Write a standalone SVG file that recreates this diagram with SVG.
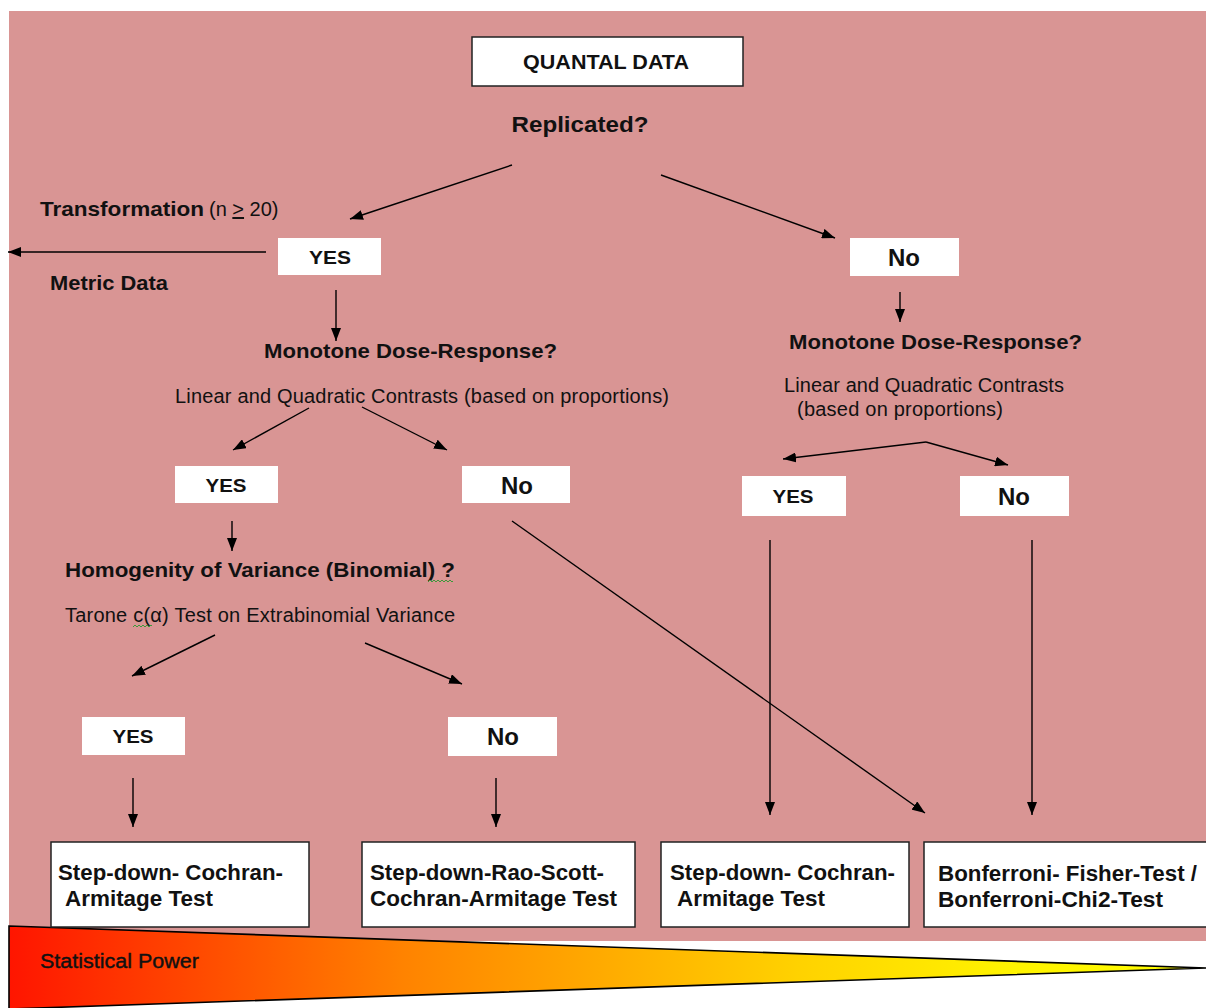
<svg xmlns="http://www.w3.org/2000/svg" width="1206" height="1008" viewBox="0 0 1206 1008">
  <style>
    .b { font-family: "Liberation Sans", Arial, sans-serif; font-weight: bold; fill: #111; }
    .r { font-family: "Liberation Sans", Arial, sans-serif; font-weight: normal; fill: #111; }
    .box { fill: #fff; stroke: #222; stroke-width: 1.5; }
    .tag { fill: #fff; stroke: none; }
    .c { stroke: #000; stroke-width: 1.4; fill: none; marker-end: url(#ah); }
    .sq { stroke: #3a9a3a; stroke-width: 1; fill: none; }
  </style>
  <defs>
    <marker id="ah" viewBox="0 0 13 10" refX="13" refY="5" markerWidth="13" markerHeight="10" markerUnits="userSpaceOnUse" orient="auto">
      <path d="M0,0 L13,5 L0,10 z" fill="#000"/>
    </marker>
    <linearGradient id="power" gradientUnits="userSpaceOnUse" x1="9" y1="0" x2="1206" y2="0">
      <stop offset="0" stop-color="#ff1500"/>
      <stop offset="0.33" stop-color="#ff8300"/>
      <stop offset="0.66" stop-color="#ffd200"/>
      <stop offset="0.83" stop-color="#fff200"/>
      <stop offset="1" stop-color="#ffff00"/>
    </linearGradient>
  </defs>

  <!-- page -->
  <rect x="0" y="0" width="1206" height="1008" fill="#fff"/>
  <rect x="9" y="11" width="1197" height="930" fill="#d99594"/>

  <!-- power wedge -->
  <g id="power-wedge">
    <polygon points="9,926 1206,968 9,1009" fill="url(#power)" stroke="#000" stroke-width="1.6" stroke-linejoin="miter"/>
    <text class="r" x="40" y="968" font-size="20" stroke="#111" stroke-width="0.4" textLength="159" lengthAdjust="spacingAndGlyphs">Statistical  Power</text>
  </g>

  <!-- connectors -->
  <g id="connectors">
    <line class="c" x1="512" y1="165" x2="350" y2="219"/>
    <line class="c" x1="661" y1="175" x2="835" y2="238"/>
    <line class="c" x1="266" y1="252" x2="8" y2="252"/>
    <line class="c" x1="336" y1="290" x2="336" y2="341"/>
    <line class="c" x1="900" y1="292" x2="900" y2="322"/>
    <line class="c" x1="309" y1="408" x2="233" y2="450"/>
    <line class="c" x1="362" y1="407" x2="447" y2="450"/>
    <line class="c" x1="232" y1="521" x2="232" y2="551"/>
    <line class="c" x1="215" y1="635" x2="132" y2="676"/>
    <line class="c" x1="365" y1="643" x2="462" y2="684"/>
    <line class="c" x1="133" y1="778" x2="133" y2="827"/>
    <line class="c" x1="496" y1="778" x2="496" y2="827"/>
    <line class="c" x1="926" y1="442" x2="783" y2="459"/>
    <line class="c" x1="926" y1="442" x2="1008" y2="465"/>
    <line class="c" x1="770" y1="540" x2="770" y2="815"/>
    <line class="c" x1="1032" y1="540" x2="1032" y2="815"/>
    <line class="c" x1="512" y1="521" x2="925" y2="813"/>
  </g>

  <!-- top -->
  <g id="quantal-data">
    <rect class="box" x="472" y="37" width="271" height="49"/>
    <text class="b" x="606" y="69" font-size="20" text-anchor="middle" textLength="166" lengthAdjust="spacingAndGlyphs">QUANTAL DATA</text>
  </g>
  <g id="replicated">
    <text class="b" x="580" y="132" font-size="22" text-anchor="middle" textLength="137" lengthAdjust="spacingAndGlyphs">Replicated?</text>
  </g>

  <!-- replicated: yes branch -->
  <g id="transformation">
    <text x="40" y="216"><tspan class="b" font-size="21" textLength="164" lengthAdjust="spacingAndGlyphs">Transformation</tspan><tspan class="r" x="209" font-size="20">(n <tspan text-decoration="underline">&gt;</tspan> 20)</tspan></text>
  </g>
  <g id="metric-data">
    <text class="b" x="50" y="290" font-size="21" textLength="118" lengthAdjust="spacingAndGlyphs">Metric Data</text>
  </g>
  <g id="yes-replicated">
    <rect class="tag" x="278" y="238" width="103" height="37"/>
    <text class="b" x="330" y="264" font-size="19" text-anchor="middle" textLength="42" lengthAdjust="spacingAndGlyphs">YES</text>
  </g>
  <g id="monotone-left">
    <text class="b" x="264" y="358" font-size="21" textLength="293" lengthAdjust="spacingAndGlyphs">Monotone Dose-Response?</text>
    <text class="r" x="175" y="403" font-size="20" textLength="494" lengthAdjust="spacing">Linear  and Quadratic  Contrasts (based on proportions)</text>
  </g>
  <g id="yes-monotone-left">
    <rect class="tag" x="175" y="466" width="103" height="37"/>
    <text class="b" x="226" y="492" font-size="19" text-anchor="middle" textLength="41" lengthAdjust="spacingAndGlyphs">YES</text>
  </g>
  <g id="no-monotone-left">
    <rect class="tag" x="462" y="466" width="108" height="37"/>
    <text class="b" x="517" y="494" font-size="24" text-anchor="middle">No</text>
  </g>
  <g id="homogeneity">
    <text class="b" x="65" y="577" font-size="21" textLength="390" lengthAdjust="spacingAndGlyphs">Homogenity of Variance (Binomial) ?</text>
    <path class="sq" d="M428,582 l2,-2 l2,2 l2,-2 l2,2 l2,-2 l2,2 l2,-2 l2,2 l2,-2 l2,2 l2,-2 l2,2 l1,-1"/>
    <text class="r" x="65" y="622" font-size="20" textLength="390" lengthAdjust="spacing">Tarone  c(α) Test  on Extrabinomial Variance</text>
    <path class="sq" d="M133,627 l2,-2 l2,2 l2,-2 l2,2 l2,-2 l2,2 l2,-2 l2,2 l2,-2 l1,1"/>
  </g>
  <g id="yes-homogeneity">
    <rect class="tag" x="82" y="717" width="103" height="38"/>
    <text class="b" x="133" y="743" font-size="19" text-anchor="middle" textLength="41" lengthAdjust="spacingAndGlyphs">YES</text>
  </g>
  <g id="no-homogeneity">
    <rect class="tag" x="448" y="717" width="109" height="39"/>
    <text class="b" x="503" y="745" font-size="24" text-anchor="middle">No</text>
  </g>

  <!-- replicated: no branch -->
  <g id="no-replicated">
    <rect class="tag" x="850" y="238" width="109" height="38"/>
    <text class="b" x="904" y="266" font-size="24" text-anchor="middle">No</text>
  </g>
  <g id="monotone-right">
    <text class="b" x="789" y="349" font-size="21" textLength="293" lengthAdjust="spacingAndGlyphs">Monotone Dose-Response?</text>
    <text class="r" x="784" y="392" font-size="20" textLength="280" lengthAdjust="spacing">Linear  and Quadratic Contrasts</text>
    <text class="r" x="797" y="416" font-size="20" textLength="206" lengthAdjust="spacing">(based on proportions)</text>
  </g>
  <g id="yes-monotone-right">
    <rect class="tag" x="742" y="476" width="104" height="40"/>
    <text class="b" x="793" y="503" font-size="19" text-anchor="middle" textLength="41" lengthAdjust="spacingAndGlyphs">YES</text>
  </g>
  <g id="no-monotone-right">
    <rect class="tag" x="960" y="476" width="109" height="40"/>
    <text class="b" x="1014" y="505" font-size="24" text-anchor="middle">No</text>
  </g>

  <!-- outcomes -->
  <g id="cochran-armitage-left">
    <rect class="box" x="51" y="842" width="258" height="85"/>
    <text class="b" font-size="22"><tspan x="58" y="880" textLength="225" lengthAdjust="spacingAndGlyphs">Step-down- Cochran-</tspan><tspan x="65" y="906" textLength="148" lengthAdjust="spacingAndGlyphs">Armitage Test</tspan></text>
  </g>
  <g id="rao-scott">
    <rect class="box" x="362" y="842" width="273" height="85"/>
    <text class="b" font-size="22"><tspan x="370" y="880" textLength="234" lengthAdjust="spacingAndGlyphs">Step-down-Rao-Scott-</tspan><tspan x="370" y="906" textLength="247" lengthAdjust="spacingAndGlyphs">Cochran-Armitage Test</tspan></text>
  </g>
  <g id="cochran-armitage-right">
    <rect class="box" x="661" y="842" width="248" height="85"/>
    <text class="b" font-size="22"><tspan x="670" y="880" textLength="225" lengthAdjust="spacingAndGlyphs">Step-down- Cochran-</tspan><tspan x="677" y="906" textLength="148" lengthAdjust="spacingAndGlyphs">Armitage Test</tspan></text>
  </g>
  <g id="bonferroni">
    <rect class="box" x="924" y="842" width="300" height="85"/>
    <text class="b" font-size="22"><tspan x="938" y="881" textLength="259" lengthAdjust="spacingAndGlyphs">Bonferroni- Fisher-Test /</tspan><tspan x="938" y="907" textLength="225" lengthAdjust="spacingAndGlyphs">Bonferroni-Chi2-Test</tspan></text>
  </g>
</svg>
